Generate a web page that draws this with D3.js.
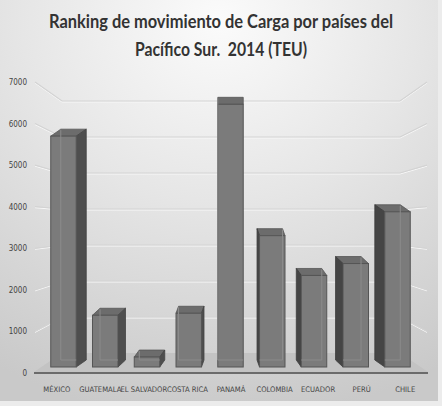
<!DOCTYPE html>
<html><head><meta charset="utf-8">
<script src="https://cdn.jsdelivr.net/npm/d3@7"></script>
<style>html,body{margin:0;padding:0;background:#e6e6e6;}svg{display:block;}</style>
</head><body>
<svg id="chart" width="442" height="406"></svg>
<script>
const titleLines = ["Ranking de movimiento de Carga por países del", "Pacífico Sur.\u00a0 2014 (TEU)"];
const categories = ["MÉXICO","GUATEMALA","EL SALVADOR","COSTA RICA","PANAMÁ","COLOMBIA","ECUADOR","PERÚ","CHILE"];
const values = [5800, 1300, 250, 1350, 6600, 3300, 2300, 2600, 3900];
const tickValues = [0,1000,2000,3000,4000,5000,6000,7000];

const svg = d3.select("#chart");
const defs = svg.append("defs");
const bg = defs.append("radialGradient").attr("id","bg").attr("cx","0.5").attr("cy","0.05").attr("r","1.0");
bg.append("stop").attr("offset","0").attr("stop-color","#fbfbfb");
bg.append("stop").attr("offset","0.45").attr("stop-color","#e6e6e6");
bg.append("stop").attr("offset","1").attr("stop-color","#c9c9c9");

svg.append("rect").attr("width",442).attr("height",406).attr("fill","#ececec");
svg.append("rect").attr("width",438).attr("height",401).attr("fill","url(#bg)");

// Title
svg.append("g").selectAll("text").data(titleLines).join("text")
  .attr("x",221).attr("y",(d,i)=>28+i*28)
  .attr("text-anchor","middle")
  .attr("font-family","Lato, 'Open Sans', sans-serif")
  .attr("font-weight","700")
  .attr("font-size",19)
  .attr("fill","#333")
  .attr("textLength",(d,i)=> i===0?344:172)
  .attr("lengthAdjust","spacingAndGlyphs")
  .text(d=>d);

// Scales
const yFront = d3.scaleLinear().domain([0,7000]).range([373,82]);
const yBack = d3.scaleLinear().domain([0,7000]).range([353,101]);
const yBar = d3.scaleLinear().domain([0,7000]).range([367,88.4]);
const xLabel = d3.scaleBand().domain(categories).range([35,427]);
const xBar = d3.scaleBand().domain(categories).range([42.6,418.4]).paddingInner(0.39).paddingOuter(0.195);
const backL = 62, backR = 400, frontL = 34, frontR = 428, vanishX = 231;

// Floor
svg.append("path")
  .attr("d", `M${backL},${yBack(0)}L${backR},${yBack(0)}L${frontR},${yFront(0)-1}L${frontL},${yFront(0)-1}Z`)
  .attr("fill","#c3c3c3");

// Gridlines (left wall, back wall, right wall)
const grid = svg.append("g");
tickValues.filter(v=>v>0).forEach(v=>{
  const pts = [[frontL+1,yFront(v)],[backL,yBack(v)],[backR,yBack(v)],[frontR-1,yFront(v)]];
  grid.append("path").attr("d", d3.line()(pts.map(p=>[p[0],p[1]+1]))).attr("fill","none").attr("stroke","#f8f8f8").attr("stroke-width",1);
  grid.append("path").attr("d", d3.line()(pts)).attr("fill","none").attr("stroke","#d3d3d3").attr("stroke-width",1.2);
});

// Front axis line
svg.append("line").attr("x1",frontL).attr("x2",frontR).attr("y1",yFront(0)).attr("y2",yFront(0))
  .attr("stroke","#6b6b6b").attr("stroke-width",2);

// Y tick labels
svg.append("g").selectAll("text").data(tickValues).join("text")
  .attr("x",27).attr("y",d=>yFront(d)+3)
  .attr("text-anchor","end")
  .attr("font-family","'DejaVu Sans Condensed', 'DejaVu Sans', sans-serif")
  .attr("font-stretch","condensed")
  .attr("font-size",8).attr("fill","#444")
  .text(d=>d);

// Bars (3D)
const dy = 7;
const bars = svg.append("g");
categories.forEach((c,i)=>{
  const x0 = xBar(c), w = xBar.bandwidth(), x1 = x0 + w;
  const cx = x0 + w/2;
  const dx = (vanishX - cx) * 0.06;
  const yt = yBar(values[i]), yb = yBar(0);
  const g = bars.append("g");
  g.append("path").attr("d",`M${x0},${yt}L${x1},${yt}L${x1+dx},${yt-dy}L${x0+dx},${yt-dy}Z`)
    .attr("fill","#6c6c6c").attr("stroke","#555").attr("stroke-width",0.8);
  if (dx > 0.5) {
    g.append("path").attr("d",`M${x1},${yt}L${x1+dx},${yt-dy}L${x1+dx},${yb-dy}L${x1},${yb}Z`)
      .attr("fill","#4e4e4e").attr("stroke","#444").attr("stroke-width",0.8);
  } else if (dx < -0.5) {
    g.append("path").attr("d",`M${x0},${yt}L${x0+dx},${yt-dy}L${x0+dx},${yb-dy}L${x0},${yb}Z`)
      .attr("fill","#454545").attr("stroke","#3c3c3c").attr("stroke-width",0.8);
  }
  g.append("rect").attr("x",x0).attr("y",yt).attr("width",w).attr("height",yb-yt)
    .attr("fill","#7b7b7b").attr("stroke","#555").attr("stroke-width",1);
  const hx = dx >= 0 ? x0+dx : x1+dx;
  g.append("path").attr("d",`M${hx},${yt-dy+1}L${hx},${yb-dy}M${x0+Math.max(dx,0)},${yb-dy}L${x1+Math.min(dx,0)},${yb-dy}`)
    .attr("fill","none").attr("stroke","#8c8c8c").attr("stroke-width",1);
});

// Category labels
svg.append("g").selectAll("text").data(categories).join("text")
  .attr("x",d=>xLabel(d)+xLabel.bandwidth()/2).attr("y",392)
  .attr("text-anchor","middle")
  .attr("font-family","'DejaVu Sans Condensed', 'DejaVu Sans', sans-serif")
  .attr("font-stretch","condensed")
  .attr("font-size",7.6).attr("fill","#444")
  .text(d=>d);
</script>
</body></html>
